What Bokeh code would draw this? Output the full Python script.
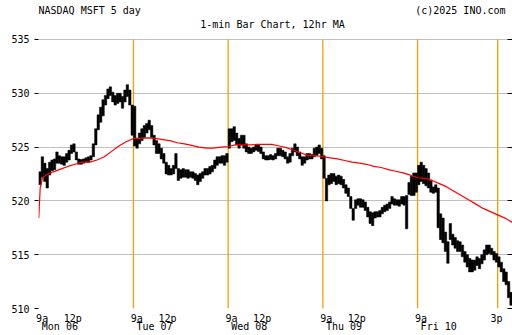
from bokeh.plotting import figure
from bokeh.models import (Range1d, FixedTicker, LinearAxis, ColumnDataSource, Label)
from bokeh.embed import file_html
from bokeh.resources import INLINE

# ---------------- data ----------------
DAY_MINUTES = 390          # 9:30 - 16:00
BAR_MINUTES = 10           # one drawn bar per 10 minutes of trading
day_labels = ["Mon 06", "Tue 07", "Wed 08", "Thu 09", "Fri 10"]

mon_low = [521.5, 522.2, 521.8, 521.2, 522.4, 522.8, 522.9, 523.5, 523.5, 523.4,
           523.3, 523.6, 523.8, 524.4, 524.55, 523.8, 523.4, 523.4, 523.5, 523.6,
           523.6, 523.8, 524.1, 525.2, 526.6, 527.3, 527.9, 528.9, 529.5, 529.8,
           529.2, 528.9, 529.05, 529.2, 528.6, 529.2, 529.7, 528.9, 526.1]
mon_high = [522.7, 524.1, 523.5, 523.0, 523.6, 523.8, 523.9, 524.55, 524.2, 524.1,
            524.1, 524.4, 524.7, 525.2, 525.3, 524.55, 523.9, 523.85, 523.9, 524.0,
            524.1, 524.2, 525.3, 526.7, 528.0, 528.7, 529.4, 529.8, 530.4, 530.6,
            530.1, 529.8, 530.0, 530.0, 529.7, 530.3, 530.8, 530.3, 528.9]
tue_low = [525.1, 524.9, 525.3, 525.6, 525.9, 526.3, 526.6, 525.9, 525.2, 524.4,
           524.4, 523.9, 523.5, 522.5, 522.4, 522.4, 522.5, 523.0, 521.9, 522.1,
           522.2, 522.2, 522.1, 522.2, 522.1, 521.9, 521.5, 521.8, 522.1, 522.4,
           522.4, 522.5, 522.7, 523.0, 523.3, 523.5, 523.5, 523.3, 523.6]
tue_high = [528.8, 525.8, 526.3, 526.7, 527.0, 527.2, 527.5, 527.0, 526.1, 525.6,
            525.3, 524.9, 524.4, 523.6, 523.3, 523.0, 523.3, 524.4, 523.0, 522.9,
            523.0, 522.9, 522.9, 522.7, 522.7, 522.55, 522.4, 522.55, 522.7, 523.0,
            523.0, 523.2, 523.3, 523.8, 524.1, 524.1, 524.2, 524.2, 524.4]
wed_low = [524.9, 525.5, 525.6, 525.2, 524.9, 525.2, 524.9, 524.55, 524.4, 524.4,
           524.55, 524.7, 524.6, 524.4, 523.9, 523.8, 523.8, 523.85, 523.8, 523.9,
           524.2, 524.2, 524.1, 523.9, 523.5, 523.6, 524.2, 524.55, 524.2, 523.9,
           523.3, 523.5, 523.8, 523.9, 523.9, 524.1, 524.2, 524.4, 523.9]
wed_high = [526.7, 526.7, 526.9, 526.3, 525.8, 526.1, 526.1, 525.3, 525.0, 524.9,
            525.0, 525.2, 525.2, 525.0, 524.55, 524.2, 524.2, 524.3, 524.2, 524.4,
            524.9, 524.9, 524.7, 524.55, 524.1, 524.4, 524.9, 525.3, 525.0, 524.55,
            524.1, 524.1, 524.4, 524.4, 524.3, 524.9, 525.0, 525.2, 524.9]
thu_low = [522.1, 520.0, 521.5, 521.6, 521.8, 521.5, 521.6, 521.5, 521.2, 520.7,
           520.4, 519.3, 518.2, 519.3, 519.6, 519.4, 519.4, 519.1, 518.5, 517.9,
           517.7, 518.4, 518.5, 518.5, 518.8, 519.0, 519.1, 519.3, 519.7, 519.6,
           519.6, 519.5, 519.7, 519.6, 517.4, 520.6, 520.5, 520.5, 520.8]
thu_high = [524.2, 522.1, 522.4, 522.55, 522.55, 522.3, 522.4, 522.3, 522.0, 521.5,
            521.2, 520.4, 519.3, 520.1, 520.2, 520.2, 520.1, 519.9, 519.4, 519.0,
            518.9, 519.0, 519.0, 519.1, 519.4, 519.6, 519.7, 519.9, 520.4, 520.2,
            520.1, 520.1, 520.4, 520.4, 520.5, 521.7, 522.3, 522.6, 522.6]
fri_low = [521.5, 521.8, 521.6, 521.4, 521.2, 520.8, 520.7, 520.8, 517.5, 516.4,
           516.1, 515.3, 514.2, 516.4, 515.9, 515.6, 515.3, 515.3, 514.8, 514.3,
           513.85, 513.4, 513.4, 513.55, 514.0, 513.7, 514.15, 514.5, 515.0, 515.1,
           515.0, 514.5, 514.3, 513.85, 513.4, 512.5, 512.2, 511.0, 510.3]
fri_high = [523.3, 523.6, 523.3, 523.0, 522.6, 521.9, 521.3, 521.5, 521.2, 518.8,
            518.4, 517.1, 516.2, 517.9, 516.9, 516.6, 516.3, 516.2, 515.9, 515.3,
            515.0, 514.65, 514.5, 514.5, 514.8, 514.65, 515.0, 515.45, 515.9, 515.9,
            515.6, 515.3, 515.1, 514.8, 514.3, 513.7, 513.4, 512.5, 511.5]

# 12hr moving average, sampled every 30 minutes (Monday also early minutes)
mon_ma_minutes = [0, 6, 15, 30, 60, 90, 120, 150, 180, 210, 240, 270, 300, 330, 360]
mon_ma = [518.4, 521.2, 522.1, 522.4, 522.7, 522.95, 523.2, 523.4, 523.6, 523.6,
          523.8, 524.1, 524.6, 525.1, 525.5]
ma_minutes = [0, 30, 60, 90, 120, 150, 180, 210, 240, 270, 300, 330, 360]
tue_ma = [525.8, 525.8, 525.85, 525.8, 525.7, 525.6, 525.4, 525.3, 525.15, 525.0,
          524.9, 524.9, 525.0]
wed_ma = [525.05, 525.2, 525.2, 525.2, 525.25, 525.25, 525.25, 525.1, 524.95, 524.7,
          524.45, 524.2, 524.2]
thu_ma = [524.1, 524.0, 523.9, 523.75, 523.6, 523.5, 523.4, 523.2, 523.1, 522.9,
          522.75, 522.6, 522.4]
fri_ma_minutes = [0, 30, 60, 90, 120, 150, 180, 210, 240, 270, 300, 330, 360, 390]
fri_ma = [522.15, 522.1, 521.9, 521.6, 521.3, 520.9, 520.5, 520.1, 519.7, 519.3,
          519.0, 518.7, 518.4, 518.0]

# axis ticks / labels
y_ticks = [510, 515, 520, 525, 530, 535]
time_tick_minutes = [14, 140]          # "9a", "12p" label spots within a day
time_tick_text = ["9a", "12p"]
fri_3p_minute = 325
fri_3p_text = "3p"
day_label_minute = 87
fri_marker_minute = 330                # Fri 3pm marker line (minutes after open)

title_left = "NASDAQ MSFT 5 day"
title_right = "(c)2025 INO.com"
subtitle = "1-min Bar Chart, 12hr MA"

# ---------------- build ----------------
lows = [mon_low, tue_low, wed_low, thu_low, fri_low]
highs = [mon_high, tue_high, wed_high, thu_high, fri_high]
bx, blo, bhi = [], [], []
for d in range(5):
    for i, (lo, hi) in enumerate(zip(lows[d], highs[d])):
        bx.append(d * DAY_MINUTES + BAR_MINUTES * i + BAR_MINUTES / 2)
        blo.append(lo)
        bhi.append(hi)
bars = ColumnDataSource(dict(x=bx, bottom=blo, top=bhi))

mx, mv = [], []
for m, v in zip(mon_ma_minutes, mon_ma):
    mx.append(m); mv.append(v)
for d, arr in ((1, tue_ma), (2, wed_ma), (3, thu_ma)):
    for m, v in zip(ma_minutes, arr):
        mx.append(d * DAY_MINUTES + m); mv.append(v)
for m, v in zip(fri_ma_minutes, fri_ma):
    mx.append(4 * DAY_MINUTES + m); mv.append(v)

FONT = "DejaVu Sans Mono"
FS = "10px"
Y_LO, Y_HI = y_ticks[0], y_ticks[-1]
# frame spans the full canvas height above the axes; header sits inside it
Y_TOP = Y_HI + 3.62

p = figure(width=512, height=335, output_backend="svg", toolbar_location=None,
           title=None, x_range=Range1d(-1, 5 * DAY_MINUTES + 1),
           y_range=Range1d(Y_LO, Y_TOP), x_axis_location=None, y_axis_location=None,
           min_border_left=38, min_border_right=0, min_border_top=0,
           min_border_bottom=27)
p.outline_line_color = None
p.background_fill_color = "white"
p.border_fill_color = "white"
p.xgrid.visible = False


def style_axis(ax):
    ax.axis_line_color = None
    ax.minor_tick_line_color = None
    ax.major_label_text_font = FONT
    ax.major_label_text_font_size = FS
    ax.major_label_text_color = "black"


# left axis
yax = LinearAxis(ticker=FixedTicker(ticks=y_ticks))
style_axis(yax)
yax.major_tick_out = 4
yax.major_tick_in = 0
yax.major_label_standoff = 5
p.add_layout(yax, "left")

# right axis: tick marks only
rax = LinearAxis(ticker=FixedTicker(ticks=y_ticks),
                 major_label_overrides={t: "" for t in y_ticks})
style_axis(rax)
rax.major_tick_out = 0
rax.major_tick_in = 5
rax.major_label_standoff = 0
rax.major_label_text_font_size = "0px"
p.add_layout(rax, "right")

# bottom time axis
tick_vals, tick_over = [], {}
for d in range(5):
    for m, t in zip(time_tick_minutes, time_tick_text):
        if d == 4 and t == "12p":
            continue
        v = d * DAY_MINUTES + m
        tick_vals.append(v); tick_over[v] = t
v3 = 4 * DAY_MINUTES + fri_3p_minute
tick_vals.append(v3); tick_over[v3] = fri_3p_text
xax = LinearAxis(ticker=FixedTicker(ticks=tick_vals), major_label_overrides=tick_over)
style_axis(xax)
xax.major_tick_line_color = None
xax.major_tick_in = 0
xax.major_tick_out = 0
xax.major_label_standoff = 4
p.add_layout(xax, "below")

# bottom day axis
day_vals = [d * DAY_MINUTES + day_label_minute for d in range(5)]
dax = LinearAxis(ticker=FixedTicker(ticks=day_vals),
                 major_label_overrides=dict(zip(day_vals, day_labels)))
style_axis(dax)
dax.major_tick_line_color = None
dax.major_tick_in = 0
dax.major_tick_out = 0
dax.major_label_standoff = -6
p.add_layout(dax, "below")

p.ygrid.ticker = FixedTicker(ticks=y_ticks)
p.ygrid.grid_line_color = "#c0c0c0"
p.ygrid.grid_line_width = 1

# day separators and 3pm marker, spanning the price range only
mark_x = [d * DAY_MINUTES for d in range(1, 5)] + [4 * DAY_MINUTES + fri_marker_minute]
p.segment(x0=mark_x, y0=[Y_LO] * len(mark_x), x1=mark_x, y1=[Y_HI] * len(mark_x),
          line_color="#f0a000", line_width=1.3)

p.vbar(x="x", width=BAR_MINUTES, bottom="bottom", top="top", source=bars,
       fill_color="black", line_color="black", line_width=0.5)
p.line(mx, mv, line_color="red", line_width=1.2)

# header texts (screen units inside the frame)
hdr = dict(x_units="screen", y_units="screen", text_font=FONT, text_font_size=FS,
           text_color="black", text_baseline="alphabetic")
p.add_layout(Label(x=0, y=298, text=title_left, text_align="left", **hdr))
p.add_layout(Label(x=467, y=298, text=title_right, text_align="right", **hdr))
p.add_layout(Label(x=234, y=284, text=subtitle, text_align="center", **hdr))

open("out.html", "w").write(file_html(p, INLINE))
